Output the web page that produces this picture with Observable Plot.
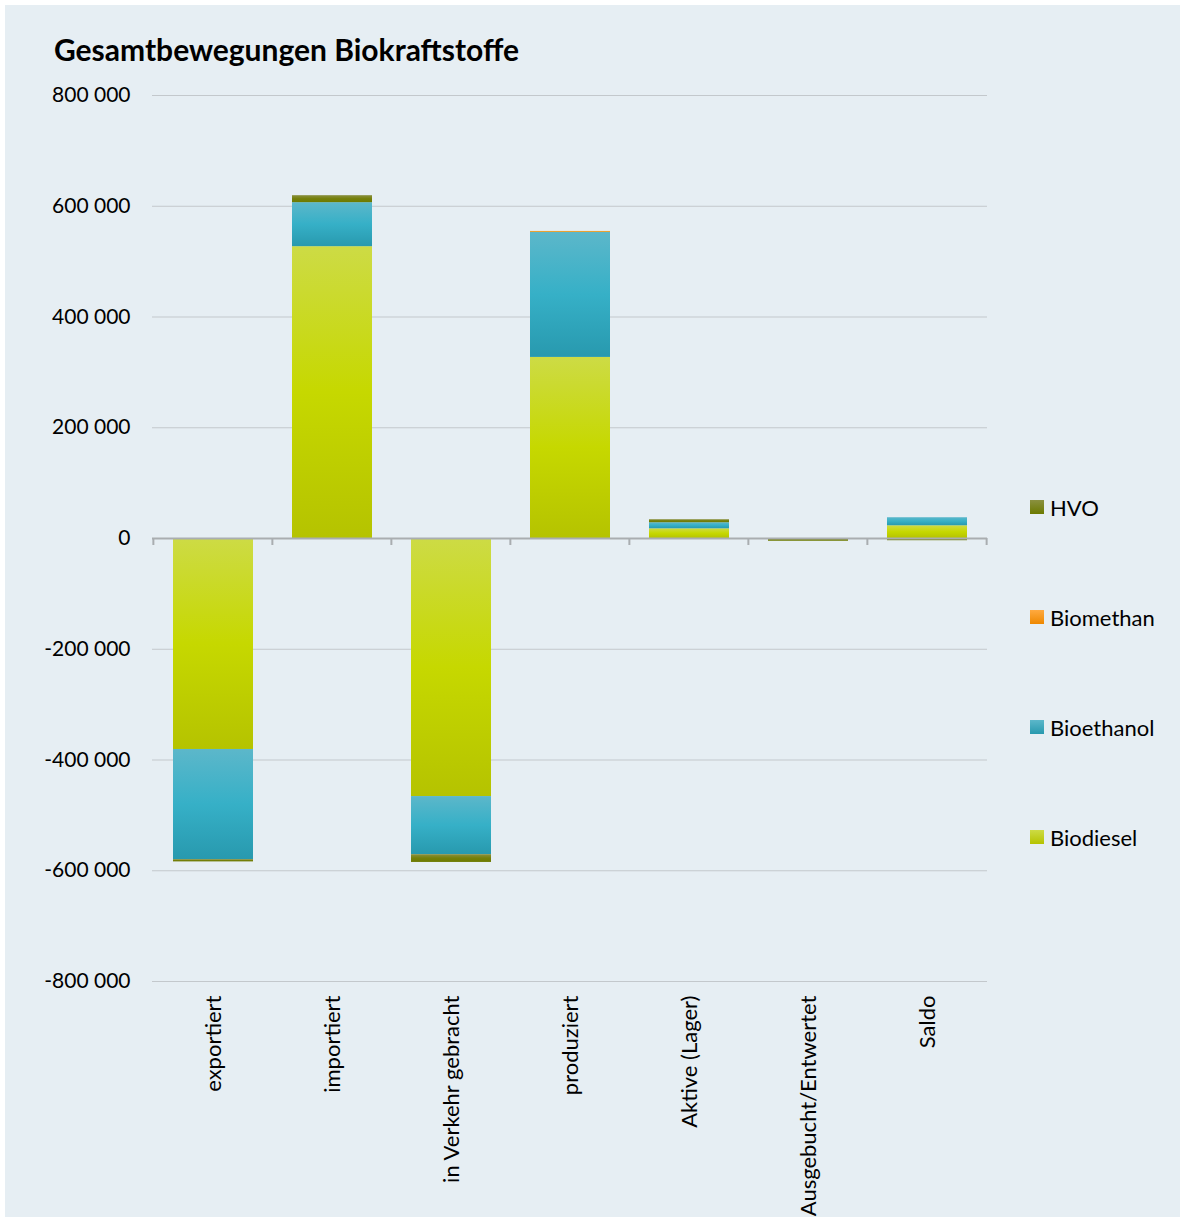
<!DOCTYPE html>
<html><head><meta charset="utf-8">
<script src="https://cdn.jsdelivr.net/npm/d3@7"></script>
<script src="https://cdn.jsdelivr.net/npm/@observablehq/plot@0.6"></script>
<style>
body{margin:0;background:#fff;}
#wrap{position:relative;width:1182px;height:1219px;background:#fff;overflow:hidden;font-family:Lato, "Open Sans", sans-serif;}
#panel{position:absolute;left:5px;top:5px;width:1175px;height:1212px;background:#E6EEF3;}
#title{position:absolute;left:54px;top:31px;font-weight:bold;font-size:30px;color:#000;white-space:nowrap;}
#chart{position:absolute;left:0;top:0;}
.leg{position:absolute;left:1030px;height:20px;display:flex;align-items:center;font-size:22px;color:#000;white-space:nowrap;}
.sw{width:14px;height:14px;margin-right:6px;}
</style></head>
<body>
<div id="wrap">
  <div id="panel"></div>
  <div id="title">Gesamtbewegungen Biokraftstoffe</div>
  <div id="chart"></div>
  <div id="legend"></div>
</div>
<script>
const categories = ["exportiert","importiert","in Verkehr gebracht","produziert","Aktive (Lager)","Ausgebucht/Entwertet","Saldo"];
const series = ["Biodiesel","Bioethanol","Biomethan","HVO"];
const biodiesel  = [-381000, 527000, -466000, 327000, 17500,     0, 23000];
const bioethanol = [-199000,  79500, -105000, 226000, 11000,     0, 14500];
const biomethan  = [      0,      0,       0,   1500,     0,     0,     0];
const hvo        = [  -4000,  12600,  -14000,      0,  5400, -5000, -4000];
const yTicks = [-800000,-600000,-400000,-200000,0,200000,400000,600000,800000];
const legendOrder = ["HVO","Biomethan","Bioethanol","Biodiesel"];

const values = [biodiesel, bioethanol, biomethan, hvo];
const data = [];
series.forEach((s, j) => categories.forEach((c, i) => data.push({category: c, series: s, value: values[j][i]})));

const grads = {
  Biodiesel: ["#CDDB45", "#C6D800", "#B5C300"],
  Bioethanol: ["#5CB7CA", "#36B0C7", "#2899AE"],
  Biomethan: ["#FFAA40", "#F79400", "#EE8800"],
  HVO: ["#8A9040", "#75800A", "#6C7A00"]
};
const gid = s => "grad_" + s;

const fmt = d => (d < 0 ? "-" : "") + d3.format(",")(Math.abs(d)).replace(/,/g, " ");

const chart = Plot.plot({
  width: 1182,
  height: 1219,
  marginTop: 95,
  marginBottom: 238,
  marginLeft: 152,
  marginRight: 195,
  style: {background: "transparent", fontFamily: "Lato, 'Open Sans', sans-serif", fontSize: "21px", color: "#000", overflow: "visible"},
  x: {domain: categories, paddingInner: 0.33, paddingOuter: 0.165, label: null},
  y: {domain: [-800000, 800000], label: null},
  color: {domain: series, range: series.map(s => `url(#${gid(s)})`)},
  marks: [
    Plot.ruleY(yTicks, {stroke: "#C3C8CC", strokeWidth: 1}),
    Plot.barY(data, {x: "category", y: "value", fill: "series"}),
    Plot.ruleY([0], {stroke: "#A9ADB0", strokeWidth: 2}),
    Plot.axisY({ticks: yTicks, tickSize: 0, tickPadding: 22, tickFormat: fmt, fontSize: 21, label: null, fill: "#000"}),
    Plot.axisX({tickSize: 0, tickPadding: 14, tickRotate: -90, fontSize: 22, label: null, fill: "#000"})
  ]
});

// gradients
const svg = d3.select(chart);
const defs = svg.insert("defs", ":first-child");
series.forEach(s => {
  const g = defs.append("linearGradient").attr("id", gid(s)).attr("x1", 0).attr("y1", 0).attr("x2", 0).attr("y2", 1);
  const c = grads[s];
  g.append("stop").attr("offset", "0%").attr("stop-color", c[0]);
  g.append("stop").attr("offset", "50%").attr("stop-color", c[1]);
  g.append("stop").attr("offset", "100%").attr("stop-color", c[2]);
});

// category boundary ticks on the zero line, from the library's scales
const xs = chart.scale("x"), ys = chart.scale("y");
const step = xs.step, off = xs.paddingInner * step / 2;
const bounds = categories.map(c => xs.apply(c) - off);
bounds.push(xs.apply(categories[categories.length - 1]) + xs.bandwidth + off);
const y0 = ys.apply(0);
svg.append("g").selectAll("line").data(bounds).join("line")
  .attr("x1", d => d).attr("x2", d => d)
  .attr("y1", y0).attr("y2", y0 + 7)
  .attr("stroke", "#A9ADB0").attr("stroke-width", 2);

document.getElementById("chart").appendChild(chart);

// legend
const leg = document.getElementById("legend");
const legY = [497, 607, 717, 827];
legendOrder.forEach((s, i) => {
  const d = document.createElement("div");
  d.className = "leg";
  d.style.top = legY[i] + "px";
  const c = grads[s];
  d.innerHTML = `<div class="sw" style="background:linear-gradient(${c[0]},${c[2]})"></div><span>${s}</span>`;
  leg.appendChild(d);
});
</script>
</body></html>
